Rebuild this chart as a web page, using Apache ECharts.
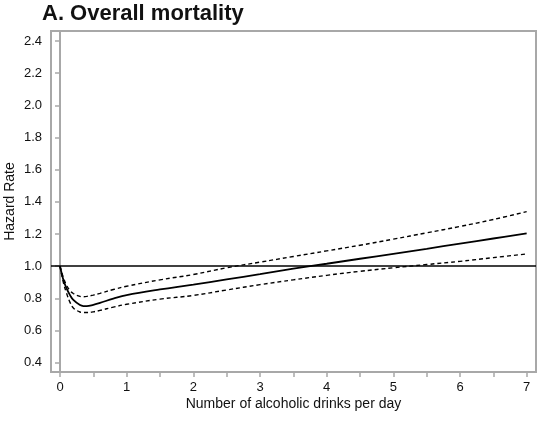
<!DOCTYPE html>
<html>
<head>
<meta charset="utf-8">
<script src="https://cdn.jsdelivr.net/npm/echarts@6/dist/echarts.min.js"></script>
<style>
html,body{margin:0;padding:0;background:#fff;}
#chart{width:556px;height:422px;}
</style>
</head>
<body>
<div id="chart"></div>
<script>
// Data
var drinks   = [0, 0.05, 0.1, 0.15, 0.2, 0.3, 0.35, 0.4, 0.5, 0.6, 0.8, 1.0, 1.5, 2.0, 2.5, 3.0, 3.5, 4.0, 4.5, 5.0, 5.5, 6.0, 6.5, 7.0];
var hazard   = [1.0, 0.915, 0.86, 0.82, 0.79, 0.758, 0.752, 0.752, 0.76, 0.772, 0.798, 0.82, 0.855, 0.885, 0.918, 0.95, 0.984, 1.015, 1.046, 1.077, 1.108, 1.14, 1.172, 1.204];
var upperCI  = [1.0, 0.93, 0.88, 0.848, 0.83, 0.812, 0.81, 0.812, 0.82, 0.831, 0.855, 0.875, 0.915, 0.948, 0.99, 1.025, 1.06, 1.095, 1.13, 1.168, 1.207, 1.247, 1.29, 1.339];
var lowerCI  = [1.0, 0.9, 0.83, 0.775, 0.74, 0.715, 0.712, 0.712, 0.716, 0.725, 0.745, 0.763, 0.795, 0.818, 0.852, 0.885, 0.915, 0.943, 0.968, 0.99, 1.01, 1.03, 1.053, 1.076];
var xTicks   = [0, 0.5, 1, 1.5, 2, 2.5, 3, 3.5, 4, 4.5, 5, 5.5, 6, 6.5, 7];
var xLabels  = [0, 1, 2, 3, 4, 5, 6, 7];
var yTicks   = [0.4, 0.6, 0.8, 1.0, 1.2, 1.4, 1.6, 1.8, 2.0, 2.2, 2.4];
var refLevel = 1.0;

function pairs(xs, ys){ return xs.map(function(x,i){ return [x, ys[i]]; }); }

var chart = echarts.init(document.getElementById('chart'), null, {renderer:'canvas'});
var font = 'Liberation Sans, Arial, sans-serif';
var gray = '#a8a8a8';
chart.setOption({
  animation:false,
  backgroundColor:'#fff',
  title:{
    text:'A. Overall mortality', left:42, top:3, padding:0,
    textStyle:{fontFamily:font, fontSize:22, fontWeight:'bold', color:'#111'}
  },
  grid:{left:51, right:20, top:31, bottom:50, containLabel:false, outerBoundsMode:'none',
        show:true, borderColor:gray, borderWidth:2, backgroundColor:'#fff'},
  xAxis:{
    type:'value', min:-0.135, max:7.14,
    name:'Number of alcoholic drinks per day', nameLocation:'middle', nameGap:25, nameMoveOverlap:false,
    nameTextStyle:{fontFamily:font, fontSize:14, color:'#111'},
    axisLine:{show:true, lineStyle:{color:gray, width:2}},
    axisTick:{show:true, length:5, inside:false, customValues:xTicks, lineStyle:{color:gray, width:1.5}},
    axisLabel:{customValues:xLabels, margin:9, fontFamily:font, fontSize:13, color:'#111', formatter:function(v){return String(Math.round(v));}},
    splitLine:{show:false}
  },
  yAxis:{
    type:'value', min:0.342, max:2.462,
    name:'Hazard Rate', nameLocation:'middle', nameGap:34, nameMoveOverlap:false,
    nameTextStyle:{fontFamily:font, fontSize:14, color:'#111'},
    axisLine:{show:true, lineStyle:{color:gray, width:2}},
    axisTick:{show:true, length:5, inside:false, customValues:yTicks, lineStyle:{color:gray, width:1.5}},
    axisLabel:{customValues:yTicks, margin:9, fontFamily:font, fontSize:13, color:'#111', formatter:function(v){return v.toFixed(1);}},
    splitLine:{show:false}
  },
  series:[
    {type:'line', data:pairs(drinks, hazard), smooth:0.4, showSymbol:false, lineStyle:{color:'#000', width:1.8}, z:4,
     markLine:{silent:true, symbol:'none', label:{show:false}, lineStyle:{color:'#000', width:1.5, type:'solid'}, data:[{yAxis:refLevel}]}},
    {type:'line', data:pairs(drinks, upperCI), smooth:0.4, showSymbol:false, lineStyle:{color:'#000', width:1.4, type:[4,3]}, z:3},
    {type:'line', data:pairs(drinks, lowerCI), smooth:0.4, showSymbol:false, lineStyle:{color:'#000', width:1.4, type:[4,3]}, z:3}
  ]
});
</script>
</body>
</html>
